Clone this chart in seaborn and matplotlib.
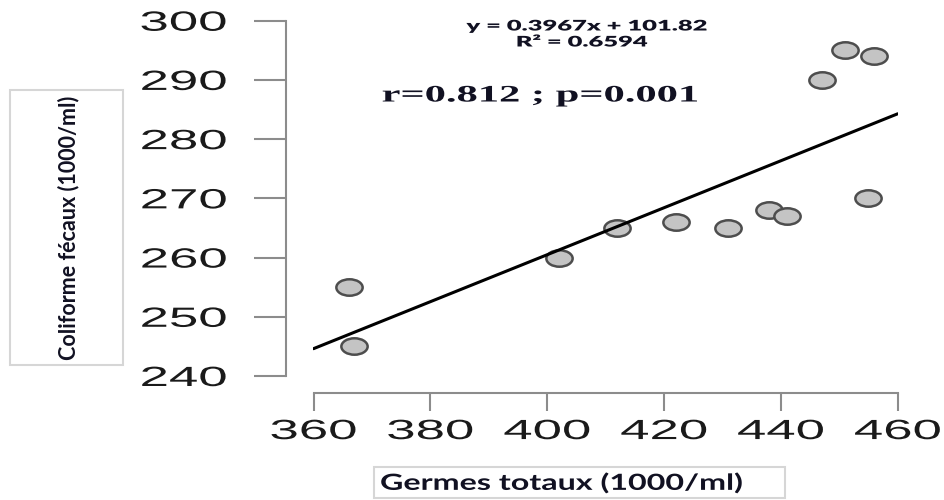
import numpy as np
import pandas as pd
import matplotlib
matplotlib.use("Agg")
import matplotlib.pyplot as plt
import seaborn as sns
from matplotlib import patheffects
from matplotlib.markers import MarkerStyle
from matplotlib.patches import Rectangle
from matplotlib.transforms import Affine2D

# -----------------------------
# data
# -----------------------------
germes = [366, 367, 402, 412, 422, 431, 438, 441, 447, 451, 456, 455]
coliformes = [255, 245, 260, 265, 266, 265, 268, 267, 290, 295, 294, 270]
x_ticks = [360, 380, 400, 420, 440, 460]
y_ticks = [240, 250, 260, 270, 280, 290, 300]
eq_text = "y = 0.3967x + 101.82"
r2_text = "R\u00b2 = 0.6594"
stat_text = "r=0.812 ; p=0.001"
xlabel = "Germes totaux (1000/ml)"
ylabel = "Coliforme f\u00e9caux (1000/ml)"

df = pd.DataFrame({"germes": germes, "coliformes": coliformes})

sns.set_style("ticks")
plt.rcParams["font.family"] = ["Liberation Sans", "DejaVu Sans"]


class Stretch(patheffects.AbstractPathEffect):
    """widen glyphs horizontally (the reference picture is stretched)"""

    def __init__(self, sx=1.8, anchor="center"):
        super().__init__()
        self.sx = sx
        self.anchor = anchor

    def draw_path(self, renderer, gc, tpath, affine, rgbFace=None):
        ext = tpath.get_extents()
        x0 = {"left": ext.x0, "center": (ext.x0 + ext.x1) / 2, "right": ext.x1}[self.anchor]
        local = Affine2D().translate(-x0, 0).scale(self.sx, 1).translate(x0, 0)
        renderer.draw_path(gc, tpath, local + affine, rgbFace)


fig = plt.figure(figsize=(9.45, 5), dpi=100)
ax = fig.add_axes([313.5 / 945, 1 - 376 / 500, (897.7 - 313.5) / 945, (376 - 20.7) / 500])
ax.set_xlim(360, 460)
ax.set_ylim(240, 300)

ellipse = MarkerStyle("o", transform=Affine2D().scale(1.6, 1.0))
sns.regplot(data=df, x="germes", y="coliformes", ax=ax, ci=None, truncate=False,
            marker=ellipse,
            scatter_kws={"s": 140, "color": "#c4c4c4", "edgecolors": "#4d4d4d",
                         "linewidths": 1.8, "alpha": 1, "clip_on": False, "zorder": 3},
            line_kws={"color": "black", "linewidth": 2.2, "zorder": 4})
ax.set_xlabel("")
ax.set_ylabel("")

# R-style detached axes
axis_col = "#8c8c8c"
ax.set_xticks(x_ticks)
ax.set_yticks(y_ticks)
for side in ["top", "right"]:
    ax.spines[side].set_visible(False)
ax.spines["left"].set_position(("outward", 19.5))
ax.spines["bottom"].set_position(("outward", 12))
for side in ["left", "bottom"]:
    ax.spines[side].set_color(axis_col)
    ax.spines[side].set_linewidth(1.5)
ax.spines["left"].set_bounds(240, 300)
ax.spines["bottom"].set_bounds(360, 460)
ax.tick_params(axis="y", length=23, width=1.5, pad=20, color=axis_col,
               labelsize=20, labelcolor="#1a1a1a")
ax.tick_params(axis="x", length=13, width=1.5, pad=6, color=axis_col,
               labelsize=20, labelcolor="#1a1a1a")
for lab in ax.get_yticklabels():
    lab.set_path_effects([Stretch(1.9, "right")])
for lab in ax.get_xticklabels():
    lab.set_path_effects([Stretch(1.9, "center")])

# annotations
txt_col = "#111122"
fig.text(587 / 945, 1 - 26 / 500, eq_text, ha="center", va="center", fontsize=10.5,
         fontweight="heavy", family=["Lato", "DejaVu Sans"], color=txt_col,
         path_effects=[Stretch(1.75, "center")])
fig.text(582 / 945, 1 - 42 / 500, r2_text, ha="center", va="center", fontsize=10.5,
         fontweight="heavy", family=["Lato", "DejaVu Sans"], color=txt_col,
         path_effects=[Stretch(1.75, "center")])
fig.text(540 / 945, 1 - 96 / 500, stat_text, ha="center", va="center", fontsize=17,
         fontweight="bold", family=["Liberation Serif", "DejaVu Serif"], color=txt_col,
         path_effects=[Stretch(1.8, "center")])

# boxed axis titles
box_col = "#d6d6d6"
fig.patches.append(Rectangle((10 / 945, 1 - 365 / 500), 113 / 945, 275 / 500,
                             transform=fig.transFigure, fill=False,
                             edgecolor=box_col, linewidth=1.5))
fig.text(69 / 945, 1 - 228 / 500, ylabel, rotation=90, ha="center", va="center",
         fontsize=15.5, fontweight="bold", family=["Lato", "DejaVu Sans"], color=txt_col)
fig.patches.append(Rectangle((374 / 945, 1 - 498 / 500), 411 / 945, 31 / 500,
                             transform=fig.transFigure, fill=False,
                             edgecolor=box_col, linewidth=1.5))
fig.text(561.5 / 945, 1 - 483 / 500, xlabel, ha="center", va="center",
         fontsize=16, fontweight="bold", family=["Lato", "DejaVu Sans"], color=txt_col,
         path_effects=[Stretch(1.45, "center")])

fig.savefig("out.png", dpi=100)
